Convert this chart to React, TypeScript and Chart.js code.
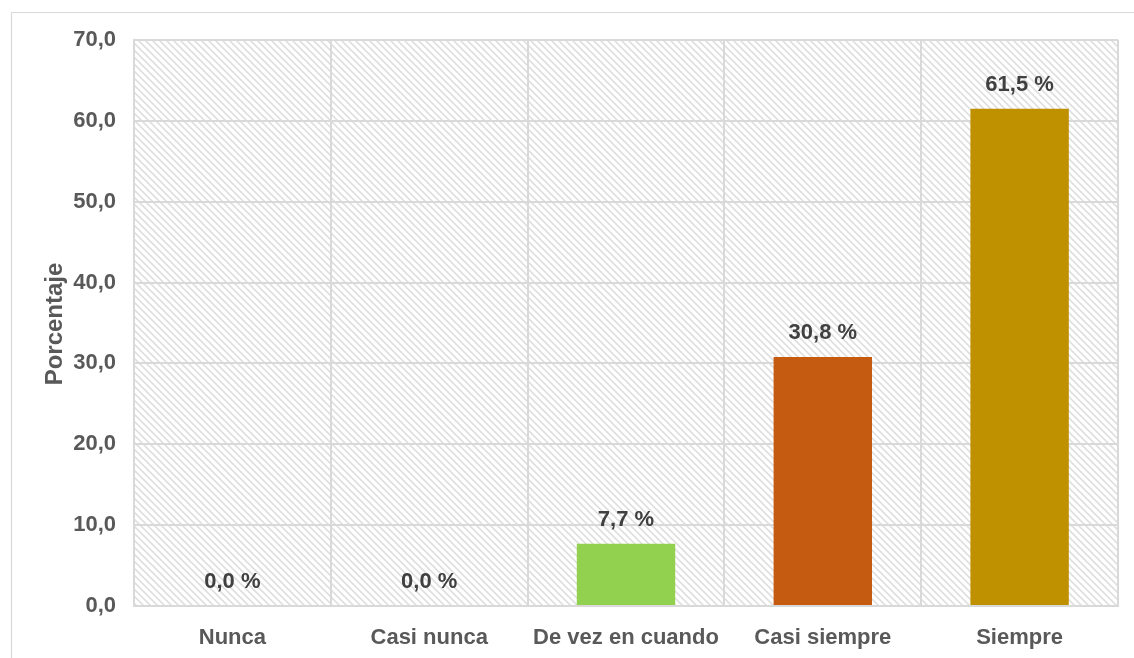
import React, { useEffect, useRef } from "react";
import { Chart, registerables } from "chart.js";

Chart.register(...registerables);

// Response categories and their share of answers (%)
const categories = ["Nunca", "Casi nunca", "De vez en cuando", "Casi siempre", "Siempre"];
const percentages = [0.0, 0.0, 7.7, 30.8, 61.5];
const barColors = ["#92D050", "#92D050", "#92D050", "#C55A11", "#BF9000"];
const yTicks = [0, 10, 20, 30, 40, 50, 60, 70];
const yTitle = "Porcentaje";

const FONT = '"Liberation Sans", Arial, sans-serif';
const GRID = "#d9d9d9";

const fmt = (v: number) => v.toFixed(1).replace(".", ",");

// Light diagonal hatching used as the plot-area fill
function makeHatch(): CanvasPattern | string {
  const size = 7;
  const tile = document.createElement("canvas");
  tile.width = size;
  tile.height = size;
  const t = tile.getContext("2d");
  if (!t) return "#ffffff";
  t.fillStyle = "#ffffff";
  t.fillRect(0, 0, size, size);
  t.strokeStyle = "#dfdfdf";
  t.lineWidth = 1.6;
  for (const x0 of [-size, 0, size]) {
    t.beginPath();
    t.moveTo(x0 - 1, -1);
    t.lineTo(x0 + size + 1, size + 1);
    t.stroke();
  }
  const p = t.createPattern(tile, "repeat");
  return p ?? "#ffffff";
}

export default function App() {
  const ref = useRef<HTMLCanvasElement | null>(null);

  useEffect(() => {
    document.body.style.margin = "0";
    const canvas = ref.current;
    if (!canvas) return;
    const hatch = makeHatch();

    const frame = {
      id: "frame",
      beforeDraw(chart: Chart) {
        const { ctx, chartArea } = chart;
        ctx.save();
        ctx.fillStyle = "#ffffff";
        ctx.fillRect(0, 0, chart.width, chart.height);
        ctx.strokeStyle = "#d9d9d9";
        ctx.lineWidth = 1.2;
        ctx.beginPath();
        ctx.moveTo(11.5, chart.height + 5);
        ctx.lineTo(11.5, 12.5);
        ctx.lineTo(chart.width + 5, 12.5);
        ctx.stroke();
        ctx.fillStyle = hatch as any;
        ctx.fillRect(
          chartArea.left,
          chartArea.top,
          chartArea.right - chartArea.left,
          chartArea.bottom - chartArea.top
        );
        ctx.restore();
      },
      afterDraw(chart: Chart) {
        const { ctx, chartArea } = chart;
        ctx.save();
        ctx.translate(62, (chartArea.top + chartArea.bottom) / 2 + 1);
        ctx.rotate(-Math.PI / 2);
        ctx.fillStyle = "#595959";
        ctx.font = `bold 24px ${FONT}`;
        ctx.textAlign = "center";
        ctx.textBaseline = "alphabetic";
        ctx.fillText(yTitle, 0, 0);
        ctx.restore();
      },
    };

    const valueLabels = {
      id: "valueLabels",
      afterDatasetsDraw(chart: Chart) {
        const { ctx } = chart;
        const meta = chart.getDatasetMeta(0);
        ctx.save();
        ctx.fillStyle = "#404040";
        ctx.font = `bold 22px ${FONT}`;
        ctx.textAlign = "center";
        ctx.textBaseline = "middle";
        meta.data.forEach((el: any, i: number) => {
          ctx.fillText(`${fmt(percentages[i])} %`, el.x, el.y - 24);
        });
        ctx.restore();
      },
    };

    const chart = new Chart(canvas, {
      type: "bar",
      data: {
        labels: categories,
        datasets: [
          {
            data: percentages,
            backgroundColor: barColors,
            borderWidth: 0,
            categoryPercentage: 1,
            barPercentage: 0.5,
          },
        ],
      },
      options: {
        responsive: false,
        animation: false,
        layout: { padding: { top: 40, right: 16, bottom: 0, left: 0 } },
        plugins: {
          legend: { display: false },
          tooltip: { enabled: false },
        },
        scales: {
          x: {
            grid: { color: GRID, lineWidth: 2, drawTicks: false, offset: true },
            border: { color: GRID, width: 2 },
            ticks: {
              color: "#595959",
              font: { family: FONT, size: 22, weight: "bold" },
              padding: 19,
              maxRotation: 0,
              autoSkip: false,
            },
            afterFit(scale: any) {
              scale.height = 52;
            },
          },
          y: {
            min: yTicks[0],
            max: yTicks[yTicks.length - 1],
            afterBuildTicks(scale: any) {
              scale.ticks = yTicks.map((v) => ({ value: v }));
            },
            grid: { color: GRID, lineWidth: 2, drawTicks: false },
            border: { color: GRID, width: 2 },
            ticks: {
              color: "#595959",
              font: { family: FONT, size: 22, weight: "bold" },
              padding: 18,
              callback: (v: any) => fmt(Number(v)),
            },
            afterFit(scale: any) {
              scale.width = 134;
            },
          },
        },
      },
      plugins: [frame, valueLabels],
    });

    return () => chart.destroy();
  }, []);

  return (
    <div style={{ position: "fixed", left: 0, top: 0, width: 1134, height: 658 }}>
      <canvas ref={ref} width={1134} height={658} />
    </div>
  );
}
